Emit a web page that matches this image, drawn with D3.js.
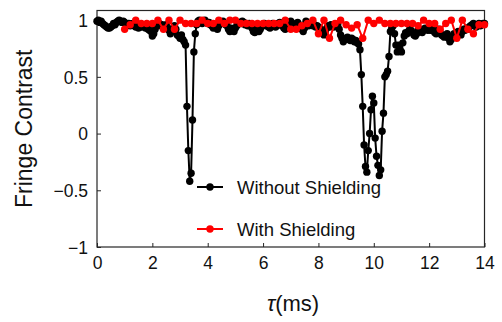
<!DOCTYPE html>
<html>
<head>
<meta charset="utf-8">
<script src="https://cdn.jsdelivr.net/npm/d3@7"></script>
<style>
  html, body { margin: 0; padding: 0; background: #fff; }
  svg { display: block; font-family: "Liberation Sans", Arial, sans-serif; }
</style>
</head>
<body>
<svg id="chart" width="502" height="322"></svg>
<script>
// ---- Data ----
// Without shielding: sampled every 0.05 ms from 0 to 14 ms
const blackStep = 0.05;
const blackValues = [
  // 0.00 - 0.95
  0.99,1.00,0.98,0.99,0.97,0.96,0.95,0.94,0.93,0.93,0.94,0.95,0.97,0.96,0.98,0.99,1.00,0.99,0.98,0.99,
  // 1.00 - 1.95
  0.98,0.97,0.96,0.97,0.95,0.96,0.97,0.95,0.94,0.96,0.93,0.95,0.94,0.96,0.95,0.93,0.94,0.92,0.91,0.90,
  // 2.00 - 2.95
  0.86,0.88,0.92,0.95,0.96,0.97,0.95,0.96,0.94,0.95,0.96,0.93,0.91,0.88,0.90,0.93,0.95,0.92,0.87,0.86,
  // 3.00 - 3.95
  0.84,0.87,0.83,0.81,0.78,0.24,-0.15,-0.42,-0.35,0.12,0.72,0.88,0.96,0.99,1.00,0.98,0.97,0.99,1.00,0.98,
  // 4.00 - 4.95
  0.97,0.98,0.96,0.95,0.93,0.95,0.94,0.92,0.95,0.97,0.98,0.99,0.97,0.96,0.95,0.92,0.90,0.93,0.91,0.90,
  // 5.00 - 5.95
  0.93,0.95,0.97,0.98,0.97,0.99,0.98,0.96,0.97,0.95,0.97,0.96,0.93,0.90,0.89,0.91,0.93,0.90,0.92,0.95,
  // 6.00 - 6.95
  0.96,0.97,0.95,0.96,0.94,0.93,0.95,0.97,0.96,0.94,0.95,0.97,0.98,0.96,0.95,0.93,0.92,0.94,0.96,0.98,
  // 7.00 - 7.95
  0.99,0.96,0.93,0.95,0.97,0.98,0.96,0.94,0.92,0.90,0.93,0.99,0.97,0.95,0.96,0.97,0.95,0.96,0.94,0.95,
  // 8.00 - 8.95
  0.94,0.93,0.91,0.89,0.87,0.90,0.93,0.95,0.94,0.96,0.95,0.94,0.96,0.95,0.96,0.92,0.87,0.84,0.81,0.83,
  // 9.00 - 9.95
  0.84,0.85,0.83,0.82,0.84,0.83,0.81,0.82,0.80,0.79,0.74,0.52,0.24,-0.10,-0.29,-0.34,-0.15,0.00,0.21,0.33,
  // 10.00 - 10.95
  0.27,-0.04,-0.20,-0.28,-0.37,-0.32,0.02,0.18,0.50,0.52,0.55,0.68,0.90,0.93,0.95,0.88,0.78,0.72,0.78,0.74,
  // 11.00 - 11.95
  0.72,0.80,0.86,0.89,0.88,0.90,0.92,0.91,0.89,0.87,0.86,0.88,0.91,0.92,0.90,0.89,0.91,0.93,0.92,0.91,
  // 12.00 - 12.95
  0.92,0.91,0.93,0.91,0.89,0.88,0.90,0.92,0.89,0.87,0.86,0.85,0.86,0.88,0.84,0.81,0.83,0.86,0.88,0.87,
  // 13.00 - 13.95
  0.89,0.90,0.88,0.87,0.90,0.92,0.91,0.93,0.92,0.94,0.95,0.96,0.97,0.95,0.94,0.96,0.97,0.95,0.96,0.97,
  // 14.00
  0.97
];

// With shielding: sampled every 0.2 ms from 1 to 14 ms
const redStart = 1.0;
const redStep = 0.2;
const redValues = [
  0.92,0.96,1.00,0.97,0.97,0.97,1.00,0.92,1.00,0.92,
  1.00,0.97,0.97,0.97,1.00,0.97,0.97,1.00,0.97,1.00,
  1.00,0.97,0.97,0.97,0.97,0.97,0.97,0.97,0.97,1.00,
  0.92,0.92,0.95,0.97,1.00,0.88,1.00,0.84,0.97,1.00,
  0.96,0.93,0.96,0.84,1.00,0.97,1.00,0.97,0.97,0.97,
  0.97,0.97,0.97,0.95,1.00,0.97,0.97,0.92,0.97,1.00,
  0.84,1.00,0.92,0.88,0.96,0.96
];

const xTicks = [0, 2, 4, 6, 8, 10, 12, 14];
const yTicks = [-1, -0.5, 0, 0.5, 1];
const seriesNames = ["Without Shielding", "With Shielding"];
const seriesColors = ["#000000", "#ff0000"];

const blackData = blackValues.map((v, i) => ({ t: +(i * blackStep).toFixed(2), v }));
const redData = redValues.map((v, i) => ({ t: +(redStart + i * redStep).toFixed(2), v }));

// ---- Layout ----
const svg = d3.select("#chart");
const x = d3.scaleLinear().domain([0, 14]).range([97, 484.5]);
const y = d3.scaleLinear().domain([-1, 1.085]).range([247, 10.5]);

const frameColor = "#262626";

// axes
const xAxis = d3.axisBottom(x).tickValues(xTicks).tickSize(-4).tickPadding(9)
  .tickFormat(d => d3.format("d")(d));
const yAxis = d3.axisLeft(y).tickValues(yTicks).tickSize(-4).tickPadding(9)
  .tickFormat(d => (d < 0 ? "\u2212" : "") + Math.abs(d));

const gx = svg.append("g").attr("transform", `translate(0,${y(-1)})`).call(xAxis);
const gy = svg.append("g").attr("transform", `translate(${x(0)},0)`).call(yAxis);
[gx, gy].forEach(g => {
  g.select(".domain").remove();
  g.selectAll(".tick line").attr("stroke", frameColor).attr("stroke-width", 1);
  g.selectAll(".tick text").attr("fill", "#111").style("font-size", "17.5px")
    .style("font-family", "'Liberation Sans', Arial, sans-serif");
});
gx.selectAll(".tick text").attr("dy", "0.75em");
gy.selectAll(".tick text").attr("dy", "0.36em");

// frame
svg.append("rect")
  .attr("x", x(0)).attr("y", y(1.085))
  .attr("width", x(14) - x(0)).attr("height", y(-1) - y(1.085))
  .attr("fill", "none").attr("stroke", frameColor).attr("stroke-width", 1.2);

// series
const line = d3.line().x(d => x(d.t)).y(d => y(d.v));
function drawSeries(data, color) {
  const g = svg.append("g");
  g.append("path").datum(data).attr("d", line)
    .attr("fill", "none").attr("stroke", color).attr("stroke-width", 2)
    .attr("stroke-linejoin", "round");
  g.selectAll("circle").data(data).join("circle")
    .attr("cx", d => x(d.t)).attr("cy", d => y(d.v)).attr("r", 3.7)
    .attr("fill", color);
}
drawSeries(blackData, seriesColors[0]);
drawSeries(redData, seriesColors[1]);

// legend
const legend = svg.append("g");
const legendY = [187, 229];
seriesNames.forEach((name, i) => {
  const g = legend.append("g").attr("transform", `translate(0,${legendY[i]})`);
  g.append("line").attr("x1", 197).attr("x2", 223).attr("y1", 0).attr("y2", 0)
    .attr("stroke", seriesColors[i]).attr("stroke-width", 2);
  g.append("circle").attr("cx", 210).attr("cy", 0).attr("r", 3.7).attr("fill", seriesColors[i]);
  g.append("text").attr("x", 237).attr("y", 0).attr("dy", "0.36em")
    .style("font-size", "18.5px").attr("fill", "#111").text(name);
});

// axis titles
svg.append("text")
  .attr("transform", `translate(32,${(y(1.085) + y(-1)) / 2}) rotate(-90)`)
  .attr("text-anchor", "middle")
  .style("font-size", "23px").attr("fill", "#111")
  .text("Fringe Contrast");

const xt = svg.append("text")
  .attr("x", 293).attr("y", 311)
  .attr("text-anchor", "middle")
  .style("font-size", "22px").attr("fill", "#111");
xt.append("tspan").style("font-style", "italic").text("\u03C4");
xt.append("tspan").text("(ms)");
</script>
</body>
</html>
